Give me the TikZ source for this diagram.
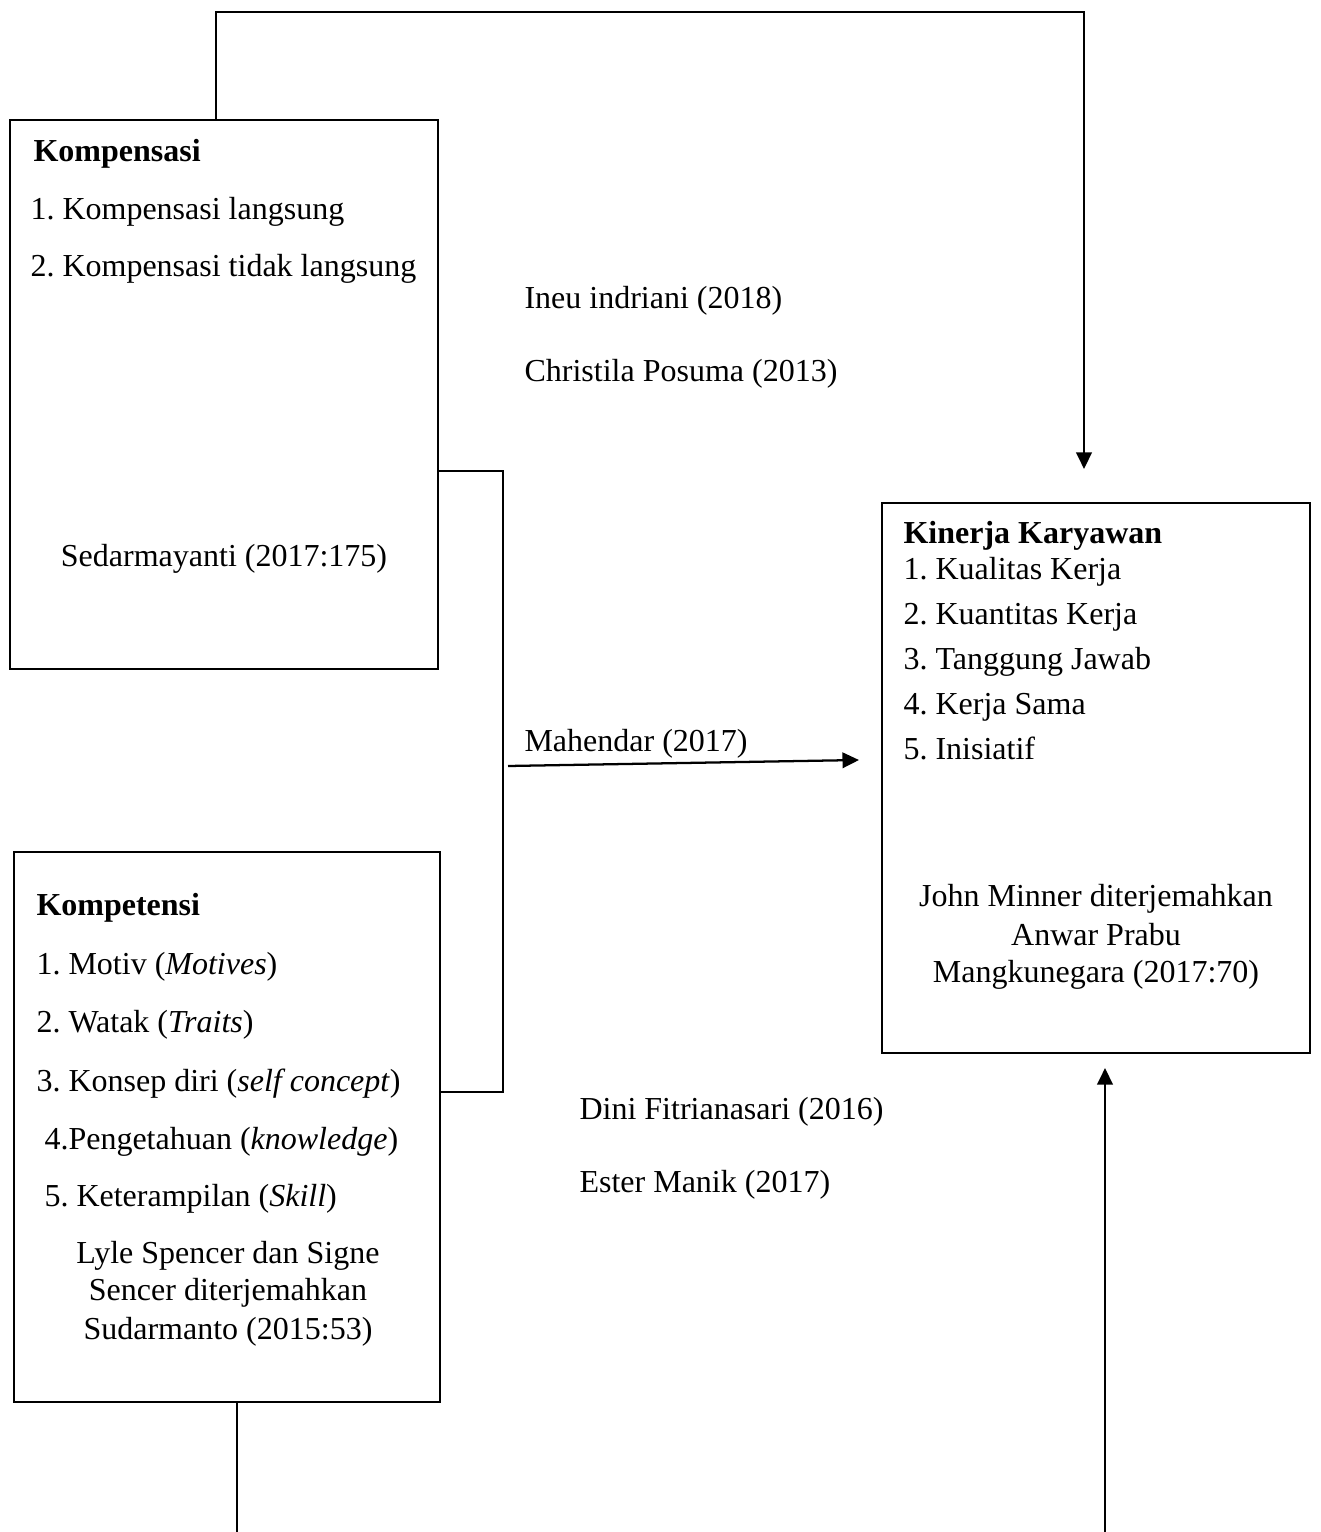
\documentclass[tikz,border=0pt]{standalone}
\usepackage{fontspec}
\setmainfont{Liberation Serif}
\usetikzlibrary{arrows.meta}
\frenchspacing
\begin{document}
\begin{tikzpicture}[x=0.375pt,y=-0.375pt,
  box/.style={draw,line width=0.85pt},
  conn/.style={line width=0.85pt},
  arr/.style={conn,-{Triangle[length=6.2pt,width=5.8pt]}},
  txt/.style={anchor=base west,inner sep=0pt,font=\fontsize{12pt}{14pt}\selectfont},
  ctxt/.style={anchor=base,inner sep=0pt,font=\fontsize{12pt}{14pt}\selectfont}]
\useasboundingbox (0,0) rectangle (1320,1532);
% boxes
\draw[box] (10,120) rectangle (438,669);
\draw[box] (882,503) rectangle (1310,1053);
\draw[box] (14,852) rectangle (440,1402);
% coordinates
\coordinate (kt) at (216,120);
\coordinate (t1) at (216,12);
\coordinate (t2) at (1084,12);
\coordinate (kin) at (1084,469);
\coordinate (b1) at (438,471);
\coordinate (b2) at (503,471);
\coordinate (b3) at (503,1092);
\coordinate (b4) at (440,1092);
\coordinate (m1) at (508,766);
\coordinate (m2) at (859,760);
\coordinate (kb) at (237,1402);
\coordinate (kb2) at (237,1532);
\coordinate (r1) at (1105,1532);
\coordinate (r2) at (1105,1068);
% connectors
\draw[arr] (kt) -- (t1) -- (t2) -- (kin);
\draw[conn] (b1) -- (b2) -- (b3) -- (b4);
\draw[arr] (m1) -- (m2);
\draw[conn] (kb) -- (kb2);
\draw[arr] (r1) -- (r2);
% Kompensasi texts
\node[txt] (k0) at (33,162) {\textbf{Kompensasi}};
\node[txt] (k1) at (30,220) {1. Kompensasi langsung};
\node[txt] (k2) at (30,277) {2. Kompensasi tidak langsung};
\node[ctxt] (k3) at (224,566) {Sedarmayanti (2017:175)};
% middle labels
\node[txt] (l1) at (524,309) {Ineu indriani (2018)};
\node[txt] (l2) at (524,382) {Christila Posuma (2013)};
\node[txt] (l3) at (524,751) {Mahendar (2017)};
\node[txt] (l4) at (579,1119) {Dini Fitrianasari (2016)};
\node[txt] (l5) at (579,1192) {Ester Manik (2017)};
% Kinerja texts
\node[txt] (j0) at (903,543) {\textbf{Kinerja Karyawan}};
\node[txt] (j1) at (903,579) {1. Kualitas Kerja};
\node[txt] (j2) at (903,624) {2. Kuantitas Kerja};
\node[txt] (j3) at (903,669) {3. Tanggung Jawab};
\node[txt] (j4) at (903,714) {4. Kerja Sama};
\node[txt] (j5) at (903,759) {5. Inisiatif};
\node[ctxt] (j6) at (1096,906) {John Minner diterjemahkan};
\node[ctxt] (j7) at (1096,945) {Anwar Prabu};
\node[ctxt] (j8) at (1096,982) {Mangkunegara (2017:70)};
% Kompetensi texts
\node[txt] (c0) at (36,915) {\textbf{Kompetensi}};
\node[txt] (c1) at (36,974) {1. Motiv (\textit{Motives})};
\node[txt] (c2) at (36,1032) {2. Watak (\textit{Traits})};
\node[txt] (c3) at (36,1091) {3. Konsep diri (\textit{self concept})};
\node[txt] (c4) at (44,1149) {4.Pengetahuan (\textit{knowledge})};
\node[txt] (c5) at (44,1206) {5. Keterampilan (\textit{Skill})};
\node[ctxt] (c6) at (228,1263) {Lyle Spencer dan Signe};
\node[ctxt] (c7) at (228,1300) {Sencer diterjemahkan};
\node[ctxt] (c8) at (228,1339) {Sudarmanto (2015:53)};
\end{tikzpicture}
\end{document}
